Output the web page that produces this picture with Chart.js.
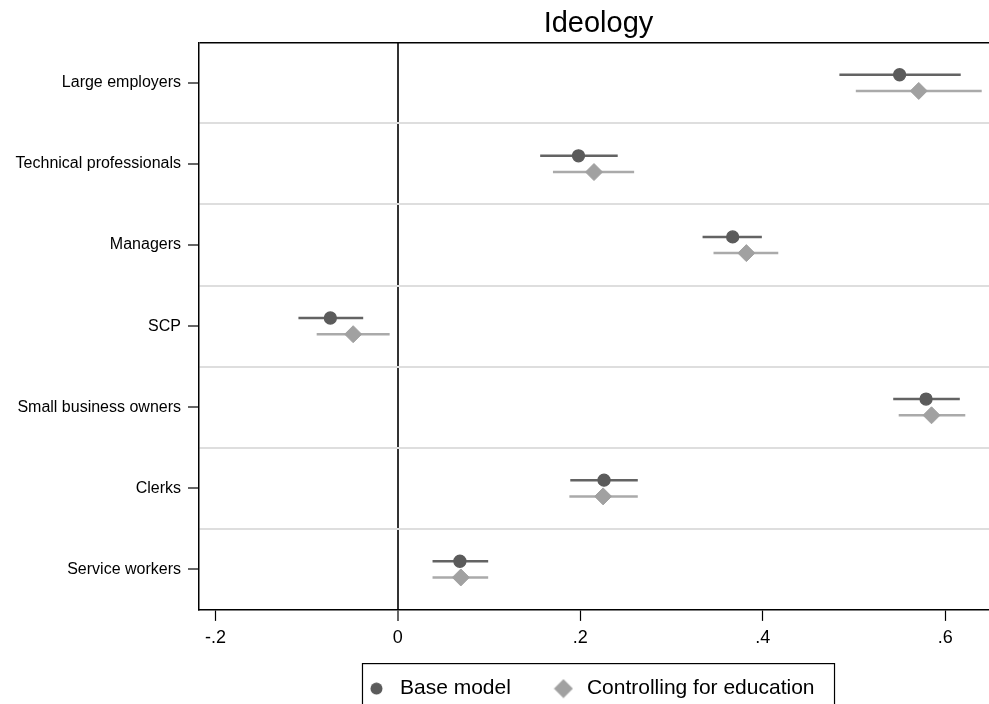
<!DOCTYPE html>
<html lang="en">
<head>
<meta charset="UTF-8">
<title>Ideology</title>
<style>
  body { margin: 0; background: #fff; }
  #wrap { width: 989px; height: 704px; }
</style>
</head>
<body>
<div id="wrap"><canvas id="myChart" width="989" height="704"></canvas></div>

<script src="https://cdn.jsdelivr.net/npm/chart.js@4.4.0/dist/chart.umd.min.js"></script>
<script>
  // values
  var categories = ['Large employers', 'Technical professionals', 'Managers', 'SCP',
    'Small business owners', 'Clerks', 'Service workers'];
  var baseEst = [0.550, 0.198, 0.367, -0.074, 0.579, 0.226, 0.068];
  var baseLo = [0.484, 0.156, 0.334, -0.109, 0.543, 0.189, 0.038];
  var baseHi = [0.617, 0.241, 0.399, -0.038, 0.616, 0.263, 0.099];
  var eduEst = [0.571, 0.215, 0.382, -0.049, 0.585, 0.225, 0.069];
  var eduLo = [0.502, 0.170, 0.346, -0.089, 0.549, 0.188, 0.038];
  var eduHi = [0.640, 0.259, 0.417, -0.009, 0.622, 0.263, 0.099];
  var xTicks = [-0.2, 0, 0.2, 0.4, 0.6];
  var xTickLabels = ['-.2', '0', '.2', '.4', '.6'];
  var seriesNames = ['Base model', 'Controlling for education'];

  var darkPt = '#5b5b5b', darkLine = '#636363';
  var lightPt = '#a1a1a1', lightLine = '#aaaaaa';

  Chart.defaults.font.family = '"Liberation Sans", Arial, sans-serif';
  Chart.defaults.color = '#000';

  function points(est, shift) {
    return est.map((v, i) => ({ x: v, y: i + shift }));
  }

  function bars(lo, hi, shift) {
    var out = [];
    lo.forEach((v, i) => {
      out.push({ x: v, y: i + shift }, { x: hi[i], y: i + shift }, { x: null, y: null });
    });
    return out;
  }

  // small legend markers (sizes differ from the plot markers)
  function marker(kind, color) {
    var c = document.createElement('canvas');
    var size = kind === 'circle' ? 13 : 20;
    c.width = size; c.height = size;
    var g = c.getContext('2d');
    g.fillStyle = color;
    g.beginPath();
    if (kind === 'circle') {
      g.arc(6.5, 6.5, 6, 0, Math.PI * 2);
    } else {
      g.moveTo(10, 0.5); g.lineTo(19.5, 10); g.lineTo(10, 19.5); g.lineTo(0.5, 10);
      g.closePath();
    }
    g.fill();
    return c;
  }
  var legendMarks = [marker('circle', darkPt), marker('diamond', lightPt)];

  // stata centres title and legend box a little right of the plot centre;
  // the legend is also pulled up over the (empty) lower part of the x axis box
  var legendLift = 12.8;
  var nudge = {
    id: 'nudge',
    afterLayout(chart) {
      var lg = chart.legend;
      if (lg) { lg.left -= 5; lg.right -= 5; lg.top -= legendLift; lg.bottom -= legendLift; }
      if (chart.titleBlock) { chart.titleBlock.left += 4.5; chart.titleBlock.right += 4.5; }
    }
  };

  var legendFrame = {
    id: 'legendFrame',
    afterDraw(chart) {
      var hb = chart.legend.legendHitBoxes;
      if (!hb || !hb.length) return;
      var first = hb[0], last = hb[hb.length - 1];
      var ctx = chart.ctx;
      var left = first.left - 1;
      var right = last.left + last.width + 20;
      var top = first.top - 14.5;
      ctx.save();
      ctx.strokeStyle = '#000';
      ctx.lineWidth = 1.2;
      ctx.strokeRect(left, top, right - left, chart.height - top + 20);
      ctx.restore();
    }
  };

  var ctx = document.getElementById('myChart');
  var myChart = new Chart(ctx, {
    type: 'scatter',
    data: {
      datasets: [
        {
          label: seriesNames[0], data: points(baseEst, -0.1), pointStyle: 'circle',
          pointRadius: 6, borderWidth: 1.3, backgroundColor: darkPt, borderColor: darkPt, order: 0
        },
        {
          label: seriesNames[1], data: points(eduEst, 0.1), pointStyle: 'rectRot',
          pointRadius: 8.5, borderWidth: 1, backgroundColor: lightPt, borderColor: lightPt, order: 0
        },
        {
          label: 'base ci', data: bars(baseLo, baseHi, -0.1), showLine: true, pointRadius: 0,
          borderWidth: 2.5, borderColor: darkLine, order: 1
        },
        {
          label: 'edu ci', data: bars(eduLo, eduHi, 0.1), showLine: true, pointRadius: 0,
          borderWidth: 2.5, borderColor: lightLine, order: 1
        }
      ]
    },
    options: {
      responsive: false,
      animation: false,
      events: [],
      layout: { autoPadding: false, padding: { left: 0, right: 0, top: 0, bottom: -5.1 - legendLift } },
      scales: {
        x: {
          type: 'linear', min: -0.218, max: 0.648,
          afterBuildTicks: s => { s.ticks = xTicks.map(v => ({ value: v })); },
          afterFit: s => { s.height = 28.7 + legendLift; },
          ticks: {
            autoSkip: false, maxRotation: 0, padding: 6.2, font: { size: 18 },
            callback: (v, i) => xTickLabels[i]
          },
          grid: {
            color: c => (c.tick && c.tick.value === 0) ? '#333' : 'transparent',
            lineWidth: c => (c.tick && c.tick.value === 0) ? 2 : 1,
            tickColor: '#000', tickLength: 11, tickWidth: 1.2
          },
          border: { color: '#000', width: 1.5 }
        },
        y: {
          type: 'linear', reverse: true, min: -0.5, max: categories.length - 0.5,
          afterBuildTicks: s => {
            var t = [];
            for (var k = 0; k <= categories.length * 2; k++) t.push({ value: -0.5 + k * 0.5 });
            s.ticks = t;
          },
          afterFit: s => { s.width = 199; },
          ticks: {
            autoSkip: false, padding: 7, font: { size: 16 },
            callback: v => Number.isInteger(v) ? categories[v] : ''
          },
          grid: {
            color: c => {
              if (!c.tick) return 'transparent';
              var v = c.tick.value;
              if (v === -0.5) return '#000';
              if (Number.isInteger(v) || v >= categories.length - 0.5) return 'transparent';
              return '#dedede';
            },
            lineWidth: c => (c.tick && c.tick.value === -0.5) ? 1.5 : 2,
            tickColor: c => (c.tick && Number.isInteger(c.tick.value)) ? '#000' : 'transparent',
            tickLength: 11, tickWidth: 1.2
          },
          border: { color: '#000', width: 1.5 }
        }
      },
      plugins: {
        title: {
          display: true, text: 'Ideology', fullSize: false,
          font: { size: 29, weight: 'normal' },
          padding: { top: 6.5, bottom: 1 }
        },
        legend: {
          position: 'bottom', fullSize: false,
          labels: {
            usePointStyle: true, pointStyleWidth: 26, padding: 39.5,
            font: { size: 21 },
            generateLabels: () => seriesNames.map((name, i) => ({
              text: name, pointStyle: legendMarks[i], datasetIndex: i,
              hidden: false, lineWidth: 0, fillStyle: 'transparent', strokeStyle: 'transparent'
            }))
          }
        },
        tooltip: { enabled: false }
      }
    },
    plugins: [nudge, legendFrame]
  });
</script>
</body>
</html>
